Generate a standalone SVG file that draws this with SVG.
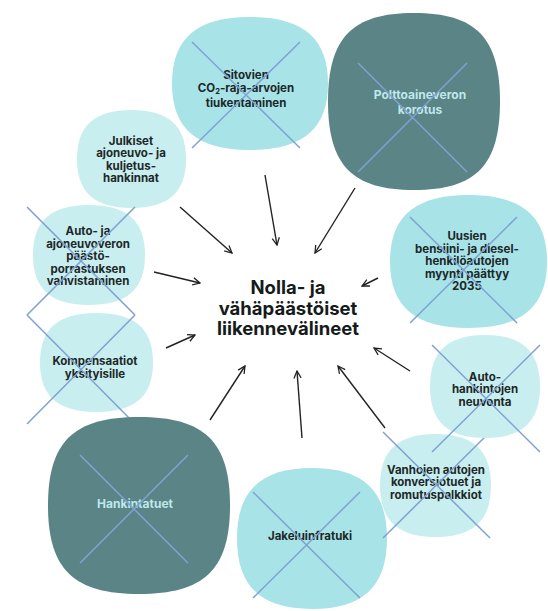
<svg xmlns="http://www.w3.org/2000/svg" width="548" height="611" viewBox="0 0 548 611">
  <style>
    .pale { fill: #c9eef0; }
    .mid { fill: #a7e3e7; }
    .dark { fill: #5a8486; }
    .cross { stroke: #7fa2d2; stroke-width: 1.5; fill: none; }
    .lbl { font-family: Inter, "Noto Sans", "DejaVu Sans", sans-serif; font-weight: 700; font-size: 11.5px; fill: #1d2727; text-anchor: middle; }
    .lbl-light { font-family: Inter, "Noto Sans", "DejaVu Sans", sans-serif; font-weight: 700; font-size: 12px; fill: #bfe8ea; text-anchor: middle; }
    .hub { font-family: Inter, "Noto Sans", "DejaVu Sans", sans-serif; font-weight: 700; font-size: 18.5px; fill: #151a1a; text-anchor: middle; }
    .arrow { stroke: #222; stroke-width: 1.4; fill: none; marker-end: url(#head); }
  </style>
  <defs>
    <marker id="head" viewBox="0 0 10 10" refX="9" refY="5" markerWidth="9" markerHeight="9" markerUnits="userSpaceOnUse" orient="auto">
      <path d="M1,1 L9,5 L1,9" fill="none" stroke="#222" stroke-width="1.4"/>
    </marker>
  </defs>
  <rect width="548" height="611" fill="#ffffff"/>

  <!-- top -->
  <g id="sitovien">
    <path class="mid" d="M250,17 C303,17 328,38.3 328,83.5 C328,128.7 303,150 250,150 C197,150 172,128.7 172,83.5 C172,38.3 197,17 250,17Z"/>
    <text class="lbl"><tspan x="246" y="79">Sitovien</tspan><tspan x="246" y="92">CO<tspan font-size="7.5" dy="1.5">2</tspan><tspan dy="-1.5">-raja-arvojen</tspan></tspan><tspan x="246" y="107">tiukentaminen</tspan></text>
    <path class="cross" d="M192,42 L300,148 M300,42 L192,148"/>
  </g>

  <g id="polttoaine">
    <path class="dark" d="M414,13 C475.9,13 500,37.8 500,101.5 C500,165.2 475.9,190 414,190 C352.1,190 328,165.2 328,101.5 C328,37.8 352.1,13 414,13Z"/>
    <text class="lbl-light"><tspan x="420" y="99">Polttoaineveron</tspan><tspan x="420" y="114">korotus</tspan></text>
    <path class="cross" d="M358,63 L467,172 M467,63 L358,172"/>
  </g>

  <g id="julkiset">
    <path class="pale" d="M131.5,110 C168.6,110 186,125.7 186,159 C186,192.3 168.6,208 131.5,208 C94.4,208 77,192.3 77,159 C77,125.7 94.4,110 131.5,110Z"/>
    <text class="lbl"><tspan x="131" y="144.5">Julkiset</tspan><tspan x="131" y="157">ajoneuvo- ja</tspan><tspan x="131" y="169.5">kuljetus-</tspan><tspan x="131" y="182">hankinnat</tspan></text>
  </g>

  <!-- left column -->
  <g id="ajoneuvovero">
    <path class="pale" d="M89,205 C127.1,205 145,221 145,255 C145,289 127.1,305 89,305 C50.9,305 33,289 33,255 C33,221 50.9,205 89,205Z"/>
    <text class="lbl"><tspan x="88" y="235">Auto- ja</tspan><tspan x="88" y="247.5">ajoneuvoveron</tspan><tspan x="88" y="260">päästö-</tspan><tspan x="88" y="272.5">porrastuksen</tspan><tspan x="88" y="285">vahvistaminen</tspan></text>
    <path class="cross" d="M27,207 L135,315 M135,207 L27,315"/>
  </g>

  <g id="kompensaatiot">
    <path class="pale" d="M96.5,313 C134.9,313 153,328.8 153,362.5 C153,396.2 134.9,412 96.5,412 C58.1,412 40,396.2 40,362.5 C40,328.8 58.1,313 96.5,313Z"/>
    <text class="lbl"><tspan x="95" y="365">Kompensaatiot</tspan><tspan x="95" y="377.5">yksityisille</tspan></text>
    <path class="cross" d="M27,315 L135,424 M135,315 L27,424"/>
  </g>

  <g id="hankintatuet">
    <path class="dark" d="M139,417 C204.5,417 230,441.8 230,505.5 C230,569.2 204.5,594 139,594 C73.5,594 48,569.2 48,505.5 C48,441.8 73.5,417 139,417Z"/>
    <text class="lbl-light" x="135" y="508">Hankintatuet</text>
    <path class="cross" d="M80,455 L188,563 M188,455 L80,563"/>
  </g>

  <!-- bottom -->
  <g id="jakeluinfra">
    <path class="mid" d="M312,468 C363,468 387,490.6 387,538.5 C387,586.4 363,609 312,609 C261,609 237,586.4 237,538.5 C237,490.6 261,468 312,468Z"/>
    <text class="lbl" x="310" y="540">Jakeluinfratuki</text>
    <path class="cross" d="M253,492 L360,598 M360,492 L253,598"/>
  </g>

  <!-- right column -->
  <g id="vanhojen">
    <path class="pale" d="M435.5,434 C473.2,434 491,450.5 491,485.5 C491,520.5 473.2,537 435.5,537 C397.8,537 380,520.5 380,485.5 C380,450.5 397.8,434 435.5,434Z"/>
    <text class="lbl"><tspan x="436" y="473.5">Vanhojen autojen</tspan><tspan x="436" y="486">konversiotuet ja</tspan><tspan x="436" y="498.5">romutuspalkkiot</tspan></text>
    <path class="cross" d="M383,432 L490,538 M490,432 L383,538"/>
  </g>

  <g id="neuvonta">
    <path class="pale" d="M485,335 C522.4,335 540,351.5 540,386.5 C540,421.5 522.4,438 485,438 C447.6,438 430,421.5 430,386.5 C430,351.5 447.6,335 485,335Z"/>
    <text class="lbl"><tspan x="485" y="380.5">Auto-</tspan><tspan x="485" y="393">hankintojen</tspan><tspan x="485" y="405.5">neuvonta</tspan></text>
    <path class="cross" d="M432,345 L540,452 M540,345 L432,452"/>
  </g>

  <g id="myyntikielto">
    <path class="mid" d="M468.5,195 C521.9,195 547,216.3 547,261.5 C547,306.7 521.9,328 468.5,328 C415.1,328 390,306.7 390,261.5 C390,216.3 415.1,195 468.5,195Z"/>
    <text class="lbl"><tspan x="467" y="240">Uusien</tspan><tspan x="467" y="252.5">bensiini- ja diesel-</tspan><tspan x="467" y="265">henkilöautojen</tspan><tspan x="467" y="277.5">myynti päättyy</tspan><tspan x="467" y="290">2035</tspan></text>
    <path class="cross" d="M410,217 L517,323 M517,217 L410,323"/>
  </g>

  <!-- hub -->
  <g id="hub">
    <text class="hub"><tspan x="288" y="294">Nolla- ja</tspan><tspan x="288" y="314.5">vähäpäästöiset</tspan><tspan x="288" y="335">liikennevälineet</tspan></text>
  </g>

  <g id="connectors">
    <path class="arrow" d="M180,207 L232,253"/>
    <path class="arrow" d="M265,175 L277,245"/>
    <path class="arrow" d="M355,188 L315,253"/>
    <path class="arrow" d="M154,272 L200,283"/>
    <path class="arrow" d="M378,278 L362,286"/>
    <path class="arrow" d="M166,348 L195,335"/>
    <path class="arrow" d="M210,420 L245,366"/>
    <path class="arrow" d="M302,438 L297,371"/>
    <path class="arrow" d="M385,428 L338,366"/>
    <path class="arrow" d="M410,371 L374,348"/>
  </g>
</svg>
